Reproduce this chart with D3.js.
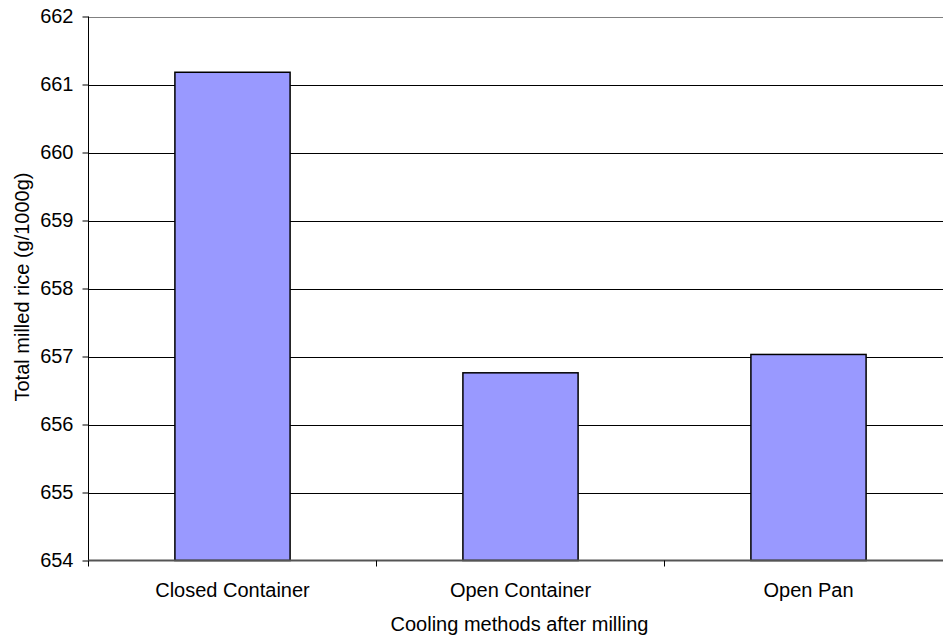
<!DOCTYPE html>
<html>
<head>
<meta charset="utf-8">
<script src="https://cdn.jsdelivr.net/npm/d3@7"></script>
<style>
  html, body { margin: 0; padding: 0; background: #fff; }
  svg { display: block; font-family: "Liberation Sans", Arial, sans-serif; }
</style>
</head>
<body>
<svg id="chart" width="943" height="639"></svg>
<script>
// Total milled rice per cooling method
const categories = ["Closed Container", "Open Container", "Open Pan"];
const values = [661.18, 656.76, 657.03];
const yTicks = [654, 655, 656, 657, 658, 659, 660, 661, 662];
const xTitle = "Cooling methods after milling";
const yTitle = "Total milled rice (g/1000g)";

(function draw() {
  const svg = d3.select("#chart");
  const plotLeft = 88.5, plotRight = 952.5, plotTop = 16.5, plotBottom = 560.5;

  const x = d3.scaleBand().domain(categories).range([plotLeft, plotRight])
    .paddingInner(0.6).paddingOuter(0.3);
  const y = d3.scaleLinear().domain([654, 662]).range([plotBottom, plotTop]);

  // horizontal gridlines
  svg.append("g").selectAll("line").data(yTicks.slice(1)).join("line")
    .attr("x1", plotLeft).attr("x2", plotRight)
    .attr("y1", d => Math.round(y(d)) + 0.5).attr("y2", d => Math.round(y(d)) + 0.5)
    .attr("stroke", d => d === 662 ? "#808080" : "#000")
    .attr("stroke-width", 1);

  // bars
  svg.append("g").selectAll("rect").data(values).join("rect")
    .attr("x", (d, i) => x(categories[i]))
    .attr("width", x.bandwidth())
    .attr("y", d => y(d))
    .attr("height", d => y(654) - y(d))
    .attr("fill", "#9999FF")
    .attr("stroke", "#000")
    .attr("stroke-width", 1.5);

  // y axis
  const yAxis = svg.append("g").attr("transform", `translate(${plotLeft},0)`)
    .call(d3.axisLeft(y).tickValues(yTicks).tickSize(6).tickPadding(9).tickFormat(d3.format("d")));
  yAxis.select(".domain").attr("stroke", "#000").attr("d", `M0,${plotTop}V${plotBottom}`);
  yAxis.selectAll(".tick line").attr("stroke", "#000");
  yAxis.selectAll(".tick text").attr("font-size", 20).attr("fill", "#000")
    .attr("font-family", "Liberation Sans, Arial, sans-serif");

  // x axis with ticks at category boundaries
  const xAxis = svg.append("g").attr("transform", `translate(0,${plotBottom})`);
  xAxis.append("line").attr("x1", plotLeft).attr("x2", plotRight).attr("y1", 0).attr("y2", 0)
    .attr("stroke", "#555").attr("stroke-width", 2);
  const bounds = categories.map(c => x(c) - x.step() * x.paddingInner() / 2);
  bounds[0] = plotLeft;
  xAxis.selectAll("line.tk").data(bounds).join("line").attr("class", "tk")
    .attr("x1", d => d).attr("x2", d => d).attr("y1", 0).attr("y2", 6)
    .attr("stroke", "#000");
  xAxis.selectAll("text").data(categories).join("text")
    .attr("x", d => x(d) + x.bandwidth() / 2)
    .attr("y", 36.5)
    .attr("text-anchor", "middle")
    .attr("font-size", 20).attr("fill", "#000")
    .text(d => d);

  // axis titles
  svg.append("text")
    .attr("x", 519.5).attr("y", 631)
    .attr("text-anchor", "middle").attr("font-size", 20).attr("fill", "#000")
    .text(xTitle);

  svg.append("text")
    .attr("transform", "translate(28.5,287) rotate(-90)")
    .attr("text-anchor", "middle").attr("font-size", 20).attr("fill", "#000")
    .text(yTitle);
})();
</script>
</body>
</html>
